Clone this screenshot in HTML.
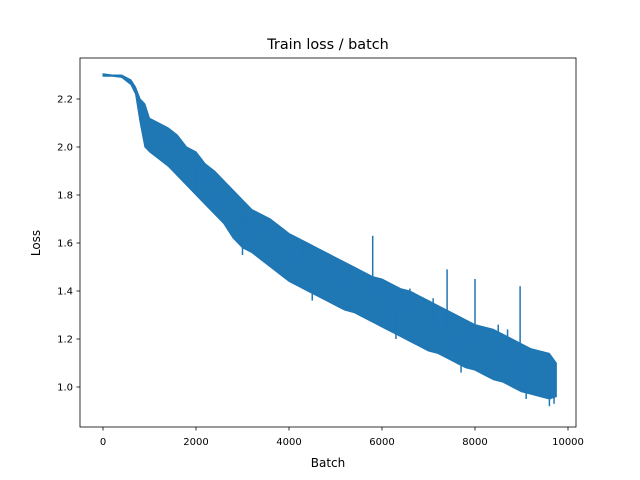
<!DOCTYPE html>
<html><head><meta charset="utf-8"><style>
html,body{margin:0;padding:0;background:#fff;width:640px;height:480px;overflow:hidden}
svg text{font-family:"DejaVu Sans","Liberation Sans",sans-serif;fill:#000}
</style></head><body>
<svg id="chart" width="640" height="480" xmlns="http://www.w3.org/2000/svg">
<rect x="0" y="0" width="640" height="480" fill="#fff"/>
<text x="328" y="49" font-size="14.4" text-anchor="middle">Train loss / batch</text>
<g id="marks"></g>
<rect x="80" y="58" width="496" height="369" fill="none" stroke="#000" stroke-width="0.8"/>
<g id="xticks"></g>
<g id="yticks"></g>
<text x="328" y="467" font-size="12" text-anchor="middle">Batch</text>
<text x="0" y="0" font-size="12" text-anchor="middle" transform="translate(40,243) rotate(-90)">Loss</text>
</svg>
<script>
const batches=[0,200,400,600,700,800,900,1000,1200,1400,1600,1800,2000,2200,2400,2600,2800,3000,3200,3400,3600,3800,4000,4200,4400,4600,4800,5000,5200,5400,5600,5800,6000,6200,6400,6600,6800,7000,7200,7400,7600,7800,8000,8200,8400,8600,8800,9000,9200,9400,9600,9750];
const lossLow=[2.295,2.295,2.29,2.26,2.22,2.10,2.0,1.98,1.95,1.92,1.88,1.84,1.80,1.76,1.72,1.68,1.62,1.58,1.56,1.53,1.50,1.47,1.44,1.42,1.40,1.38,1.36,1.34,1.32,1.31,1.29,1.27,1.25,1.23,1.21,1.19,1.17,1.15,1.14,1.12,1.10,1.08,1.07,1.05,1.03,1.02,1.00,0.98,0.97,0.96,0.95,0.96];
const lossHigh=[2.305,2.30,2.30,2.28,2.25,2.20,2.18,2.12,2.10,2.08,2.05,2.00,1.98,1.93,1.90,1.86,1.82,1.78,1.74,1.72,1.70,1.67,1.64,1.62,1.60,1.58,1.56,1.54,1.52,1.50,1.48,1.46,1.45,1.43,1.41,1.40,1.38,1.36,1.34,1.32,1.30,1.28,1.26,1.25,1.24,1.22,1.20,1.18,1.16,1.15,1.14,1.10];
const spikeBatch=[850,1300,2000,2600,4900,5800,7400,8000,8970,9600,9700,1500,2300,2500,3100,3400,3700,4300,5300,6100,6600,7100,8500,8700,3000,4500,6300,7700,9100];
const spikeVal=[2.19,2.08,1.84,1.75,1.52,1.63,1.49,1.45,1.42,0.92,0.93,2.05,1.88,1.84,1.73,1.70,1.67,1.61,1.50,1.44,1.41,1.37,1.26,1.24,1.55,1.36,1.20,1.06,0.95];
const xTicks=[0,2000,4000,6000,8000,10000];
const yTicks=[1.0,1.2,1.4,1.6,1.8,2.0,2.2];
const xs=v=>103+v*(465/10000);
const ys=v=>387-(v-1.0)*240;
const NS="http://www.w3.org/2000/svg";
const marks=document.getElementById('marks');
let d="M"+xs(batches[0])+","+ys(lossHigh[0]);
for(let i=1;i<batches.length;i++)d+=" L"+xs(batches[i])+","+ys(lossHigh[i]);
for(let i=batches.length-1;i>=0;i--)d+=" L"+xs(batches[i])+","+ys(lossLow[i]);
d+=" Z";
const band=document.createElementNS(NS,'path');


band.setAttribute('d',d);band.setAttribute('fill','#1f77b4');band.setAttribute('stroke','#1f77b4');band.setAttribute('stroke-width','1');band.setAttribute('stroke-linejoin','round');
marks.appendChild(band);
for(let i=0;i<spikeBatch.length;i++){
  let j=0;while(j<batches.length-1&&batches[j+1]<spikeBatch[i])j++;
  const mid=(lossLow[j]+lossHigh[j])/2;
  const l=document.createElementNS(NS,'line');
  
  
  l.setAttribute('x1',xs(spikeBatch[i]));l.setAttribute('x2',xs(spikeBatch[i]));
  l.setAttribute('y1',ys(mid));l.setAttribute('y2',ys(spikeVal[i]));
  l.setAttribute('stroke','#1f77b4');l.setAttribute('stroke-width','1.5');
  marks.appendChild(l);
}
const xg=document.getElementById('xticks');
xTicks.forEach(t=>{
  const l=document.createElementNS(NS,'line');
  
  
  l.setAttribute('x1',xs(t));l.setAttribute('x2',xs(t));l.setAttribute('y1',427);l.setAttribute('y2',430.5);l.setAttribute('stroke','#000');l.setAttribute('stroke-width','0.8');
  xg.appendChild(l);
  const tx=document.createElementNS(NS,'text');
  
  
  tx.setAttribute('x',xs(t));tx.setAttribute('y',445);tx.setAttribute('font-size','10');tx.setAttribute('text-anchor','middle');
  tx.textContent=String(t);xg.appendChild(tx);
});
const yg=document.getElementById('yticks');
yTicks.forEach(t=>{
  const l=document.createElementNS(NS,'line');
  
  
  l.setAttribute('x1',76.5);l.setAttribute('x2',80);l.setAttribute('y1',ys(t));l.setAttribute('y2',ys(t));l.setAttribute('stroke','#000');l.setAttribute('stroke-width','0.8');
  yg.appendChild(l);
  const tx=document.createElementNS(NS,'text');
  
  
  tx.setAttribute('x',73);tx.setAttribute('y',ys(t)+3.5);tx.setAttribute('font-size','10');tx.setAttribute('text-anchor','end');
  tx.textContent=t.toFixed(1);yg.appendChild(tx);
});
</script>
</body></html>
